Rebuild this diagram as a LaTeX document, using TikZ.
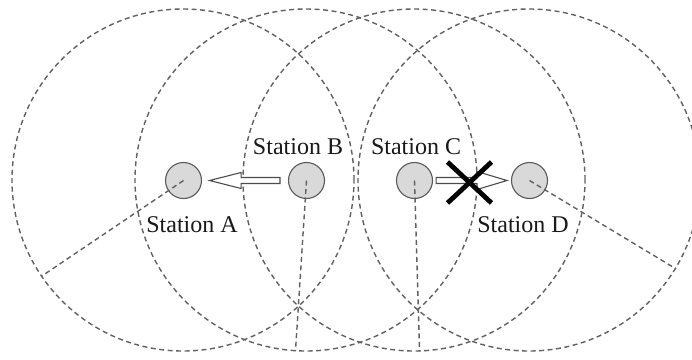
\documentclass[tikz,border=0pt]{standalone}
\usepackage{fontspec}
\setmainfont{Liberation Serif}
\usetikzlibrary{calc}
\begin{document}
\begin{tikzpicture}[x=1pt,y=-1pt,
  station/.style={circle,draw=black!65,fill=black!15,line width=1.1pt,minimum size=36pt,inner sep=0pt},
  rangeline/.style={draw=black!62,line width=1.4pt,dash pattern=on 5pt off 3.5pt},
  lbl/.style={font=\fontsize{24}{26}\selectfont,text=black!90,inner sep=0pt},
  blockarrow/.style={draw=black!70,fill=white,line width=1.1pt,line join=miter},
  crossline/.style={draw=black,line width=4.8pt}]
\useasboundingbox (0,0) rectangle (692,359);
\clip (0,0) rectangle (692,359);
% range circles
\foreach \cx in {183,306,414,529}{
  \draw[rangeline] (\cx,180) circle[radius=171pt];
}
% stations
\node[station] (A) at (183.5,180.5) {};
\node[station] (B) at (306.5,180.5) {};
\node[station] (C) at (414.5,180.5) {};
\node[station] (D) at (529.5,180.5) {};
% radius lines
\coordinate (rA) at ($(A.center)+(146:171)$);
\coordinate (rB) at ($(B.center)+(93.7:171)$);
\coordinate (rC) at ($(C.center)+(88.3:171)$);
\coordinate (rD) at ($(D.center)+(31.1:171)$);
\draw[rangeline] (A.center) -- (rA);
\draw[rangeline] (B.center) -- (rB);
\draw[rangeline] (C.center) -- (rC);
\draw[rangeline] (D.center) -- (rD);
% labels
\node[lbl] (lA) at (192,225) {Station A};
\node[lbl] (lB) at (298,147) {Station B};
\node[lbl] (lC) at (416,147) {Station C};
\node[lbl] (lD) at (523,225) {Station D};
% block arrow B -> A
\draw[blockarrow] ($(B.west)+(-8,-3)$) -- ($(A.east)+(39,-3)$) -- ($(A.east)+(39,-8)$)
  -- ($(A.east)+(7.5,0)$) -- ($(A.east)+(39,8)$) -- ($(A.east)+(39,3)$)
  -- ($(B.west)+(-8,3)$) -- cycle;
% block arrow C -> D
\draw[blockarrow] ($(C.east)+(3,-3)$) -- ($(D.west)+(-34,-3)$) -- ($(D.west)+(-34,-9)$)
  -- ($(D.west)+(-4,0)$) -- ($(D.west)+(-34,9)$) -- ($(D.west)+(-34,3)$)
  -- ($(C.east)+(3,3)$) -- cycle;
% cross
\coordinate (X) at (469.5,182.5);
\draw[crossline] ($(X)+(-22,-20.5)$) -- ($(X)+(22,20.5)$);
\draw[crossline] ($(X)+(22,-20.5)$) -- ($(X)+(-22,20.5)$);
\end{tikzpicture}
\end{document}
